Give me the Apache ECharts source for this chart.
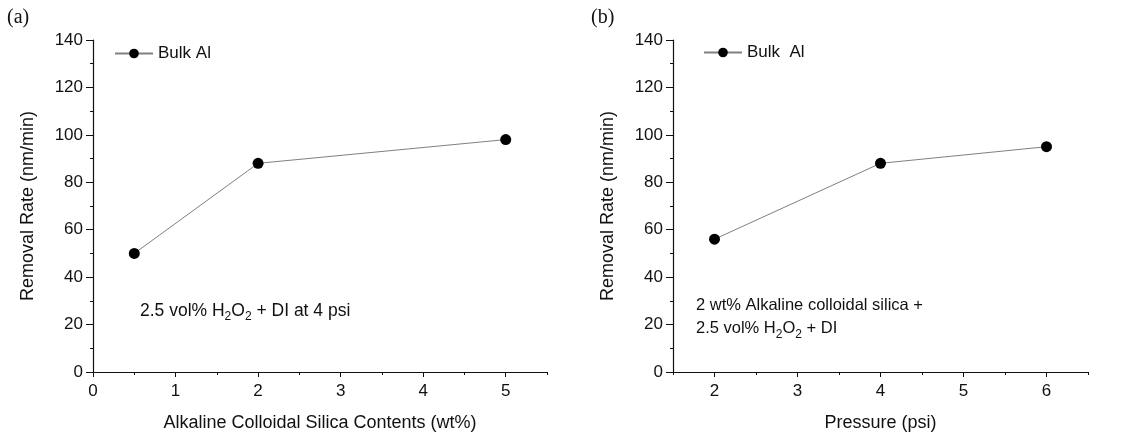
<!DOCTYPE html>
<html>
<head>
<meta charset="utf-8">
<script src="https://cdn.jsdelivr.net/npm/echarts@6/dist/echarts.min.js"></script>
<style>
  html, body { margin: 0; padding: 0; background: #fff; }
  #chart { width: 1133px; height: 437px; }
</style>
</head>
<body>
<div id="chart"></div>
<script>
// (a) silica content vs removal rate
var silicaContent = [0.5, 2, 5];
var rateA = [50, 88, 98];
// (b) pressure vs removal rate
var pressure = [2, 4, 6];
var rateB = [56, 88, 95];

var ticksA = [0, 1, 2, 3, 4, 5];
var ticksB = [2, 3, 4, 5, 6];

var font = 'Liberation Sans, Arial, sans-serif';

var chart = echarts.init(document.getElementById('chart'));

function yAxisCfg(gridIndex) {
    return {
        type: 'value',
        gridIndex: gridIndex,
        min: 0,
        max: 140,
        interval: 20,
        name: 'Removal Rate (nm/min)',
        nameLocation: 'middle',
        nameGap: 56,
        nameTextStyle: { fontFamily: font, fontSize: 18, color: '#111' },
        axisLine: { show: true, lineStyle: { color: '#111', width: 1.2 } },
        axisTick: { show: true, length: 7, lineStyle: { color: '#111' } },
        minorTick: { show: true, splitNumber: 2, length: 3, lineStyle: { color: '#111' } },
        axisLabel: { fontFamily: font, fontSize: 17, color: '#111', margin: 10 },
        splitLine: { show: false }
    };
}

function xMainCfg(gridIndex, min, max, ticks, name) {
    return {
        type: 'value',
        gridIndex: gridIndex,
        min: min,
        max: max,
        name: name,
        nameLocation: 'middle',
        nameGap: 42,
        nameTextStyle: { fontFamily: font, fontSize: 18, color: '#111' },
        axisLine: { show: true, onZero: false, lineStyle: { color: '#111', width: 1.2 } },
        axisTick: { show: true, length: 5, customValues: ticks, lineStyle: { color: '#111' } },
        axisLabel: { fontFamily: font, fontSize: 17, color: '#111', margin: 11, customValues: ticks },
        splitLine: { show: false }
    };
}

function xMinorCfg(gridIndex, min, max) {
    return {
        type: 'value',
        gridIndex: gridIndex,
        min: min,
        max: max,
        interval: 0.5,
        position: 'bottom',
        axisLine: { show: false, onZero: false },
        axisTick: { show: true, length: 3, lineStyle: { color: '#111' } },
        axisLabel: { show: false },
        splitLine: { show: false }
    };
}

function seriesCfg(name, xs, ys, idx) {
    return {
        name: name,
        type: 'line',
        xAxisIndex: idx,
        yAxisIndex: idx,
        data: xs.map(function (x, i) { return [x, ys[i]]; }),
        symbol: 'circle',
        symbolSize: 11,
        itemStyle: { color: '#000' },
        lineStyle: { color: '#808080', width: 1 },
        emphasis: { disabled: true },
        animation: false
    };
}

var subRich = {
    sub: { fontFamily: font, fontSize: 12, color: '#111', padding: [12, 0, 0, 0] }
};

chart.setOption({
    backgroundColor: '#fff',
    animation: false,
    grid: [
        { left: 93, top: 40, width: 454, bottom: 64 },
        { left: 673, top: 40, width: 415, bottom: 64 }
    ],
    legend: [
        {
            data: ['Bulk Al'], left: 114, top: 45, padding: 0, itemWidth: 38, itemHeight: 12, itemGap: 3,
            textStyle: { fontFamily: font, fontSize: 17, color: '#111' }
        },
        {
            data: ['Bulk  Al'], left: 703, top: 44, padding: 0, itemWidth: 38, itemHeight: 12, itemGap: 3,
            textStyle: { fontFamily: font, fontSize: 17, color: '#111' }
        }
    ],
    xAxis: [
        xMainCfg(0, 0, 5.5, ticksA, 'Alkaline Colloidal Silica Contents (wt%)'),
        xMainCfg(1, 1.5, 6.5, ticksB, 'Pressure (psi)'),
        xMinorCfg(0, 0, 5.5),
        xMinorCfg(1, 1.5, 6.5)
    ],
    yAxis: [yAxisCfg(0), yAxisCfg(1)],
    series: [
        seriesCfg('Bulk Al', silicaContent, rateA, 0),
        seriesCfg('Bulk  Al', pressure, rateB, 1)
    ],
    graphic: [
        { type: 'text', left: 7, top: 8, style: { text: '(a)', font: '20px "Liberation Serif", serif', fill: '#111' } },
        { type: 'text', left: 591, top: 8, style: { text: '(b)', font: '20px "Liberation Serif", serif', fill: '#111' } },
        {
            type: 'text', left: 140, top: 302,
            style: {
                text: '2.5 vol% H{sub|2}O{sub|2} + DI at 4 psi',
                fontFamily: font, fontSize: 17.5, fill: '#111', rich: subRich
            }
        },
        {
            type: 'text', left: 696, top: 297,
            style: { text: '2 wt% Alkaline colloidal silica +', fontFamily: font, fontSize: 16.5, fill: '#111' }
        },
        {
            type: 'text', left: 696, top: 320,
            style: {
                text: '2.5 vol% H{sub|2}O{sub|2} + DI',
                fontFamily: font, fontSize: 16.5, fill: '#111', rich: subRich
            }
        }
    ]
});

window.onresize = function () {
    chart.resize();
};
</script>
</body>
</html>
